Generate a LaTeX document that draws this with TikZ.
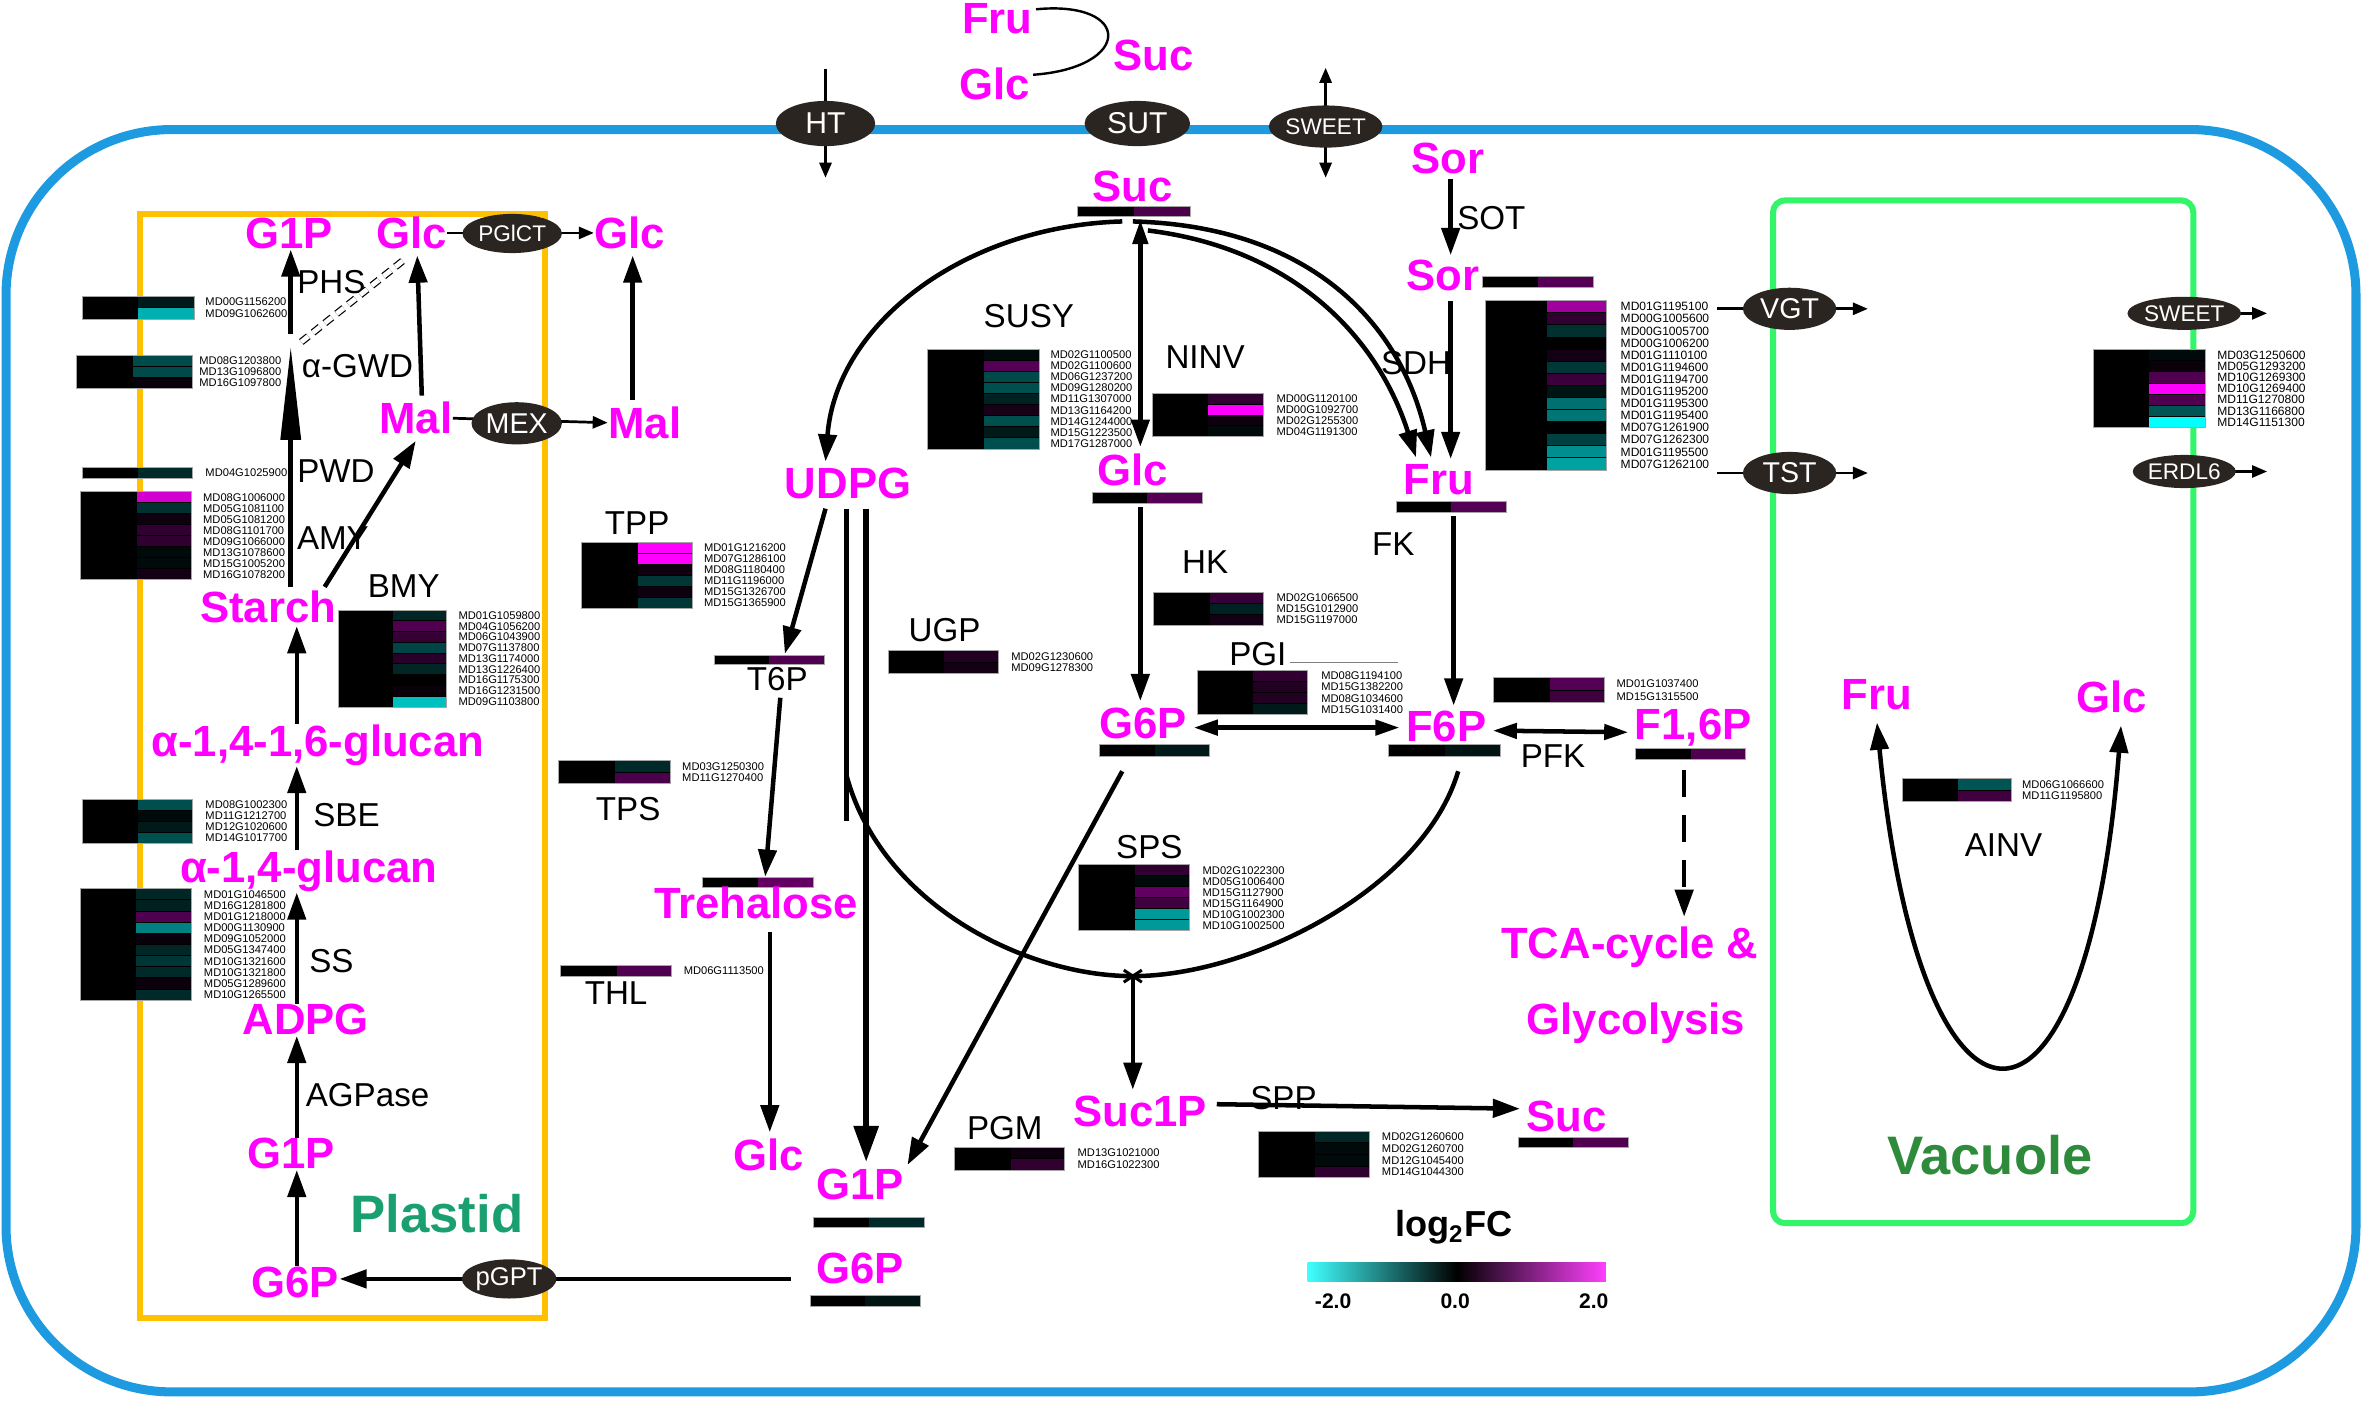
\documentclass[tikz,border=0pt]{standalone}
\usepackage{fontspec}
\setmainfont{Liberation Sans}
\usetikzlibrary{arrows.meta,shapes.geometric,calc}
\definecolor{mag}{HTML}{FF00FF}
\definecolor{mg}{rgb}{1,0,1}
\definecolor{cy}{rgb}{0,1,1}
\definecolor{bk}{rgb}{0,0,0}
\definecolor{wh}{rgb}{1,1,1}
\definecolor{cellblue}{HTML}{1E9BE0}
\definecolor{plorange}{HTML}{FFC000}
\definecolor{vacgreen}{HTML}{33F56A}
\definecolor{trans}{HTML}{2B2522}
\definecolor{plastidtxt}{HTML}{1AA070}
\definecolor{vactxt}{HTML}{2E8B3C}
\newcommand{\gfs}{3.7}
\newcommand{\heatmap}[8]{%
 \foreach \cc/\gg [count=\ii from 0] in {#8} {
   \fill[\cc] (#3,{#5+\ii*#6}) rectangle (#4,{#5+(\ii+1)*#6});
   \draw[bk,line width=0.3pt] (#3,{#5+\ii*#6}) -- (#4,{#5+\ii*#6});
   \node[gene] (#1-\ii) at (#7,{#5+(\ii+0.5)*#6}) {\gg};
   \xdef\nrows{\ii}
 }
 \fill[bk] (#2,#5) rectangle (#3,{#5+(\nrows+1)*#6});
 \draw[gray!70,line width=0.3pt] (#2,#5) rectangle (#4,{#5+(\nrows+1)*#6});
}
\newcommand{\mbar}[5]{%
 \fill[bk] (#1,#3) rectangle ({(#1+#2)/2},#4);
 \fill[#5] ({(#1+#2)/2},#3) rectangle (#2,#4);
 \draw[gray!70,line width=0.3pt] (#1,#3) rectangle (#2,#4);
}
\tikzset{
 met/.style={text=mag, font=\fontsize{14.5}{15}\selectfont\bfseries, inner sep=0pt, anchor=base},
 enz/.style={font=\fontsize{11}{12}\selectfont, inner sep=0pt},
 gene/.style={font=\fontsize{\gfs}{\gfs}\selectfont, inner sep=0pt, anchor=west},
 tr/.style={ellipse, fill=trans, text=white, inner sep=0pt, font=\fontsize{9}{9}\selectfont},
 rx/.style={line width=1.5pt, -{Triangle[length=9pt,width=6pt]}},
 rxx/.style={line width=1.5pt, {Triangle[length=8pt,width=5pt]}-{Triangle[length=8pt,width=5pt]}},
 tx/.style={line width=0.9pt, -{Triangle[length=5pt,width=4pt]}},
}
\begin{document}
\begin{tikzpicture}[x=0.5pt,y=-0.5pt]
\useasboundingbox (0,0) rectangle (1568,931);
% cell
\draw[cellblue, line width=3pt, rounded corners=55pt] (4,86) rectangle (1564,924);
% plastid
\draw[plorange, line width=2pt] (93,142) rectangle (362,875);
\node[text=plastidtxt, font=\fontsize{17.5}{18}\selectfont\bfseries] (plastid) at (290,806) {Plastid};
% vacuole
\draw[vacgreen, line width=2pt, rounded corners=4pt] (1177,133) rectangle (1456,812);
\node[text=vactxt, font=\fontsize{18}{19}\selectfont\bfseries] (vacuole) at (1321,767) {Vacuole};

% ---------- heatmaps ----------
\heatmap{phs}{54.5}{91.6}{128.8}{196.5}{7.65}{136}{cy!10!bk/MD00G1156200, cy!69!bk/MD09G1062600}
\heatmap{gwd}{51}{88}{128}{236}{7.2}{132}{cy!29!bk/MD08G1203800, cy!29!bk/MD13G1096800, mg!4!bk/MD16G1097800}
\heatmap{pwd}{54.5}{91.6}{128}{310}{7.6}{136}{cy!16!bk/MD04G1025900}
\heatmap{amy}{53.5}{90.7}{127}{326.5}{7.3}{134.5}{mg!82!bk/MD08G1006000, cy!19!bk/MD05G1081100, mg!6!bk/MD05G1081200, mg!19!bk/MD08G1101700, mg!19!bk/MD09G1066000, cy!4!bk/MD13G1078600, cy!4!bk/MD15G1005200, mg!8!bk/MD16G1078200}
\heatmap{sbe}{54.5}{91.6}{128}{530.5}{7.3}{136}{cy!31!bk/MD08G1002300, cy!4!bk/MD11G1212700, cy!10!bk/MD12G1020600, cy!31!bk/MD14G1017700}
\heatmap{ss}{53.5}{90.3}{127}{590}{7.4}{135}{cy!15!bk/MD01G1046500, cy!12!bk/MD16G1281800, mg!31!bk/MD01G1218000, cy!50!bk/MD00G1130900, mg!4!bk/MD09G1052000, cy!15!bk/MD05G1347400, cy!21!bk/MD10G1321600, cy!16!bk/MD10G1321800, mg!5!bk/MD05G1289600, cy!16!bk/MD10G1265500}
\heatmap{bmy}{225}{261}{296.5}{405}{7.15}{304}{cy!15!bk/MD01G1059800, mg!31!bk/MD04G1056200, mg!21!bk/MD06G1043900, cy!27!bk/MD07G1137800, mg!16!bk/MD13G1174000, cy!15!bk/MD13G1226400, bk/MD16G1175300, mg!4!bk/MD16G1231500, cy!75!bk/MD09G1103800}
\heatmap{tpp}{386}{423.3}{460}{360}{7.3}{467}{mg/MD01G1216200, mg/MD07G1286100, mg!6!bk/MD08G1180400, cy!21!bk/MD11G1196000, mg!6!bk/MD15G1326700, cy!21!bk/MD15G1365900}
\heatmap{tps}{370.5}{408}{444.8}{505}{7.5}{452.5}{cy!16!bk/MD03G1250300, mg!29!bk/MD11G1270400}
\heatmap{thl}{372}{409.4}{446}{641}{7.2}{453.5}{mg!31!bk/MD06G1113500}
\heatmap{susy}{616}{653}{690}{231.9}{7.35}{697}{cy!4!bk/MD02G1100500, mg!33!bk/MD02G1100600, cy!29!bk/MD06G1237200, cy!31!bk/MD09G1280200, cy!13!bk/MD11G1307000, mg!10!bk/MD13G1164200, cy!31!bk/MD14G1244000, cy!10!bk/MD15G1223500, cy!31!bk/MD17G1287000}
\heatmap{ninv}{765}{802}{838.6}{261}{7.25}{847}{mg!19!bk/MD00G1120100, mg/MD00G1092700, mg!6!bk/MD02G1255300, cy!4!bk/MD04G1191300}
\heatmap{hk}{765.6}{803}{838.6}{393}{7.3}{847}{mg!21!bk/MD02G1066500, cy!13!bk/MD15G1012900, mg!8!bk/MD15G1197000}
\heatmap{ugp}{589.6}{626.7}{663}{432}{7.5}{671}{mg!13!bk/MD02G1230600, mg!8!bk/MD09G1278300}
\heatmap{pgi}{794.6}{832}{868}{445}{7.4}{876.7}{mg!19!bk/MD08G1194100, mg!13!bk/MD15G1382200, mg!13!bk/MD08G1034600, cy!10!bk/MD15G1031400}
\heatmap{sps}{716}{753.5}{789.5}{574}{7.33}{798}{mg!19!bk/MD02G1022300, cy!4!bk/MD05G1006400, mg!38!bk/MD15G1127900, mg!25!bk/MD15G1164900, cy!60!bk/MD10G1002300, cy!60!bk/MD10G1002500}
\heatmap{pgm}{633.6}{670.9}{706.8}{761.5}{7.6}{715}{mg!6!bk/MD13G1021000, mg!19!bk/MD16G1022300}
\heatmap{spp}{835.4}{872.8}{909.3}{751}{7.7}{917}{cy!15!bk/MD02G1260600, cy!4!bk/MD02G1260700, cy!4!bk/MD12G1045400, mg!19!bk/MD14G1044300}
\heatmap{pfk}{991.6}{1028.7}{1064.8}{450}{8.2}{1072.8}{mg!33!bk/MD01G1037400, mg!25!bk/MD15G1315500}
\heatmap{ainv}{1263}{1300}{1335}{517}{7.5}{1342}{cy!33!bk/MD06G1066600, mg!25!bk/MD11G1195800}
\renewcommand{\gfs}{4}
\heatmap{vgt}{986}{1027}{1066.6}{199.6}{8.03}{1075.5}{mg!63!bk/MD01G1195100, mg!19!bk/MD00G1005600, cy!19!bk/MD00G1005700, bk/MD00G1006200, mg!8!bk/MD01G1110100, cy!22!bk/MD01G1194600, mg!23!bk/MD01G1194700, cy!8!bk/MD01G1195200, cy!44!bk/MD01G1195300, cy!46!bk/MD01G1195400, bk/MD07G1261900, cy!25!bk/MD07G1262300, cy!56!bk/MD01G1195500, cy!63!bk/MD07G1262100}
\heatmap{vac}{1389.6}{1426.7}{1464}{232}{7.43}{1471.5}{cy!4!bk/MD03G1250600, mg!4!bk/MD05G1293200, mg!31!bk/MD10G1269300, mg/MD10G1269400, mg!31!bk/MD11G1270800, cy!33!bk/MD13G1166800, cy/MD14G1151300}

% ---------- metabolite bars ----------
\mbar{715}{790}{137}{144}{mg!29!bk}
\mbar{725}{798}{327}{334}{mg!33!bk}
\mbar{927}{1000}{333}{340}{mg!33!bk}
\mbar{984}{1057.6}{183.7}{190.7}{mg!33!bk}
\mbar{730}{803}{494}{502}{cy!10!bk}
\mbar{922}{996}{494}{502}{cy!8!bk}
\mbar{1085.5}{1159}{497}{504}{mg!31!bk}
\mbar{474}{547}{435}{441}{mg!31!bk}
\mbar{466}{540}{582.6}{589.3}{mg!38!bk}
\mbar{540}{614}{808}{815}{cy!16!bk}
\mbar{538}{611}{860}{867}{cy!8!bk}
\mbar{1008}{1081}{755}{762}{mg!31!bk}

% ---------- metabolites ----------
\node[met] (fru0) at (662,22) {Fru};
\node[met] (glc0) at (660,66) {Glc};
\node[met] (suc0) at (766,47) {Suc};
\node[met] (sucT) at (752,134) {Suc};
\node[met] (g1pa) at (192,165) {G1P};
\node[met] (glcp) at (273,165) {Glc};
\node[met] (glco) at (418,165) {Glc};
\node[met] (malp) at (276,288) {Mal};
\node[met] (malo) at (428,291) {Mal};
\node[met] (starch) at (178,413) {Starch};
\node[met] (a16) at (211,502) {α-1,4-1,6-glucan};
\node[met] (a14) at (205,586) {α-1,4-glucan};
\node[met] (adpg) at (203,687) {ADPG};
\node[met] (g1pb) at (193,776) {G1P};
\node[met] (g6pp) at (196,861) {G6P};
\node[met] (udpg) at (563,331) {UDPG};
\node[met] (glcN) at (752,322) {Glc};
\node[met] (sor1) at (961,115) {Sor};
\node[met] (sor2) at (958,193) {Sor};
\node[met] (fruN) at (955,328) {Fru};
\node[met] (g6pN) at (759,490) {G6P};
\node[met] (f6p) at (960,492) {F6P};
\node[met] (f16p) at (1124,491) {F1,6P};
\node[met] (treh) at (502,610) {Trehalose};
\node[met] (glcT) at (510,777) {Glc};
\node[met] (g1pC) at (571,796) {G1P};
\node[met] (g6pC) at (571,852) {G6P};
\node[met] (suc1p) at (757,748) {Suc1P};
\node[met] (sucS) at (1040,751) {Suc};
\node[met] (tca1) at (1082,636) {TCA-cycle \&};
\node[met] (tca2) at (1086,687) {Glycolysis};
\node[met] (fruV) at (1246,471) {Fru};
\node[met] (glcV) at (1402,473) {Glc};

% ---------- enzyme labels ----------
\node[enz] (lphs) at (220,187) {PHS};
\node[enz, anchor=west] (lgwd) at (200,243) {α-GWD};
\node[enz] (lpwd) at (223,313) {PWD};
\node[enz] (lamy) at (221,357) {AMY};
\node[enz] (lbmy) at (268,389) {BMY};
\node[enz] (lsbe) at (230,541) {SBE};
\node[enz] (lss) at (220,638) {SS};
\node[enz] (lagp) at (244,727) {AGPase};
\node[enz] (lsusy) at (683,210) {SUSY};
\node[enz] (lninv) at (800,237) {NINV};
\node[enz] (lsdh) at (940,241) {SDH};
\node[enz] (lsot) at (990,145) {SOT};
\node[enz] (lfk) at (925,361) {FK};
\node[enz] (lhk) at (800,373) {HK};
\node[enz] (ltpp) at (423,347) {TPP};
\node[enz] (lugp) at (627,418) {UGP};
\node[enz] (lpgi) at (835,434) {PGI};
\node[enz] (lpfk) at (1031,502) {PFK};
\node[enz] (ltps) at (417,537) {TPS};
\node[enz] (lthl) at (409,659) {THL};
\node[enz] (lsps) at (763,562) {SPS};
\node[enz] (lpgm) at (667,749) {PGM};
\node[enz] (lspp) at (852,729) {SPP};
\node[enz] (lainv) at (1330,561) {AINV};
\node[enz] (lt6p) at (516,451) {T6P};
\draw[gray, line width=0.4pt] (lpgi.east) ++(2,6) -- ++(72,0);

% ---------- plastid arrows ----------
\coordinate (pcol) at (197,0);
\draw[rx] (pcol |- g6pp.north) -- (pcol |- g1pb.south);
\draw[rx] (pcol |- g1pb.north) -- (pcol |- adpg.south);
\draw[rx] (pcol |- adpg.north) -- (pcol |- a14.south);
\draw[rx] (pcol |- a14.north) -- (pcol |- a16.south);
\draw[rx] (pcol |- a16.north) -- ($(pcol |- starch.south)+(0,2)$);
\coordinate (gwdtip) at (193,230);
\draw[line width=1.5pt, -{Triangle[length=31pt,width=6.5pt]}] ($(starch.north -| gwdtip)+(0,-2)$) -- (gwdtip);
\draw[rx] (193,222) -- (g1pa.south -| gwdtip);
\draw[densely dashed, double, double distance=1.6pt, line width=0.4pt] (200,227) -- ($(glcp.south)+(-5,7)$);
\draw[rx] ($(starch.north east)+(-8,-2)$) -- ($(malp.south)+(0,4)$);
\draw[rx] ($(malp.north)+(4,-4)$) -- ($(glcp.south)+(4,4)$);
\draw[rx] ($(malo.north)+(-8,-4)$) -- ($(glco.south)+(2,4)$);
\draw[tx] (glcp.east) -- (glco.west);
\draw[tx] (malp.east) -- (malo.west);
\node[tr, minimum width=33pt, minimum height=13pt, font=\fontsize{7.5}{8}\selectfont] (pglct) at (340,155) {PGlCT};
\node[tr, minimum width=30pt, minimum height=14pt, font=\fontsize{9.5}{10}\selectfont] (mex) at (343,281) {MEX};

% ---------- membrane transporters ----------
\coordinate (htT) at (548,46);
\coordinate (htB) at (548,118);
\draw[tx] (htT) -- (htB);
\node[tr, minimum width=33pt, minimum height=15pt, font=\fontsize{10}{10}\selectfont] (ht) at (548,82) {HT};
\draw[line width=0.8pt] (fru0.east) ++(2,-6) .. controls (752,0) and (752,45) .. ($(glc0.east)+(2,-6)$);
\node[tr, minimum width=35pt, minimum height=15pt, font=\fontsize{10}{10}\selectfont] (sut) at (755,82) {SUT};
\coordinate (swT) at (880,45);
\coordinate (swB) at (880,118);
\draw[tx] (880,80) -- (swT);
\draw[tx] (880,84) -- (swB);
\node[tr, minimum width=33pt, minimum height=14pt, font=\fontsize{7.5}{8}\selectfont] (sweet) at (880,84) {SWEET};

% ---------- central arrows ----------
\draw[rx] (745,147) .. controls (640,150) and (555,215) .. ($(udpg.north)+(-15,-4)$);
\draw[rx] (752,147) .. controls (870,150) and (930,215) .. ($(fruN.north)+(-5,-4)$);
\draw[rx] (762,153) .. controls (860,165) and (915,225) .. ($(fruN.north)+(-15,-4)$);
\draw[line width=1.5pt, {Triangle[length=8pt,width=5pt]}-{Triangle[length=9pt,width=6pt]}] (757,146) -- ($(glcN.north)+(5,-4)$);
\draw[rx] ($(glcN.south)+(5,14)$) -- ($(g6pN.north)+(-2,-4)$);
\draw[rx] ($(sor1.south)+(2,3)$) -- ($(sor2.north)+(5,-3)$);
\draw[rx] ($(sor2.south)+(5,6)$) -- ($(fruN.north)+(8,-3)$);
\draw[rx] ($(fruN.south)+(10,14)$) -- ($(f6p.north)+(5,-3)$);
\draw[rxx] ($(g6pN.east)+(4,3)$) -- ($(f6p.west)+(-4,1)$);
\draw[rxx] ($(f6p.east)+(4,3)$) -- ($(f16p.west)+(-4,3)$);
\draw[line width=1.5pt, dash pattern=on 9pt off 6pt, -{Triangle[length=9pt,width=6pt]}] ($(f16p.south)+(-6,15)$) -- ($(tca1.north)+(36,-6)$);
% UDPG branches
\draw[rx] ($(udpg.south)+(-15,6)$) -- (521,434);
\draw[rx] ($(lt6p.south)+(2,4)$) -- (508,582);
\draw[rx] ($(treh.south)+(9,8)$) -- ($(glcT.north)+(1,-4)$);
\draw[line width=2pt, -{Triangle[length=12pt,width=8pt]}] ($(udpg.south)+(12,6)$) -- ($(g1pC.north)+(4,-4)$);
\draw[line width=1.5pt] ($(udpg.south)+(-1,6)$) -- (562,545);
\coordinate (spsj) at (752,648);
\draw[line width=1.5pt] (562,515) .. controls (585,600) and (680,648) .. (spsj) .. controls (830,648) and (945,590) .. (968,512);
\draw[line width=1pt] (746,644) -- (758,652) (746,652) -- (758,644);
\draw[rx] (spsj) -- ($(suc1p.north)+(-5,-4)$);
\draw[rx] (745,512) -- ($(g1pC.north east)+(2,-2)$);
\draw[rx] ($(suc1p.east)+(6,-5)$) -- ($(sucS.west)+(-4,-5)$);
\coordinate (gptS) at (525,849);
\draw[rx] (gptS) -- (gptS -| g6pp.east);
\node[tr, minimum width=28pt, minimum height=13pt, font=\fontsize{8.5}{9}\selectfont] (pgpt) at (338,849) {pGPT};

% ---------- tonoplast transporters ----------
\coordinate (vgtS) at (1140,205);
\draw[tx] (vgtS) -- (1240,205);
\node[tr, minimum width=31pt, minimum height=14pt, font=\fontsize{9.5}{10}\selectfont] (vgtn) at (1188,205) {VGT};
\coordinate (tstS) at (1140,314);
\draw[tx] (tstS) -- (1240,314);
\node[tr, minimum width=31pt, minimum height=14pt, font=\fontsize{9.5}{10}\selectfont] (tst) at (1188,314) {TST};
\draw[tx] (1418,208) -- (1505,208);
\node[tr, minimum width=31pt, minimum height=11pt, font=\fontsize{7.5}{8}\selectfont] (sweetv) at (1450,208) {SWEET};
\draw[tx] (1418,313) -- (1505,313);
\node[tr, minimum width=31pt, minimum height=11pt, font=\fontsize{7.5}{8}\selectfont] (erdl) at (1450,313) {ERDL6};
% AINV
\draw[line width=1.5pt, {Triangle[length=9pt,width=6pt]}-{Triangle[length=9pt,width=6pt]}] ($(fruV.south)+(0,8)$) .. controls (1275,780) and (1385,780) .. ($(glcV.south)+(6,8)$);

% ---------- legend ----------
\node[font=\fontsize{12}{12}\selectfont\bfseries] (lg) at (965,815) {log\textsubscript{2}FC};
\shade[left color=cy!75!wh, right color=mg!75!wh, middle color=bk] (868,838) rectangle (1066,851);
\node[font=\fontsize{7}{7}\selectfont\bfseries] (lm2) at (885,864) {-2.0};
\node[font=\fontsize{7}{7}\selectfont\bfseries] (l0) at (966,864) {0.0};
\node[font=\fontsize{7}{7}\selectfont\bfseries] (lp2) at (1058,864) {2.0};
\end{tikzpicture}
\end{document}
